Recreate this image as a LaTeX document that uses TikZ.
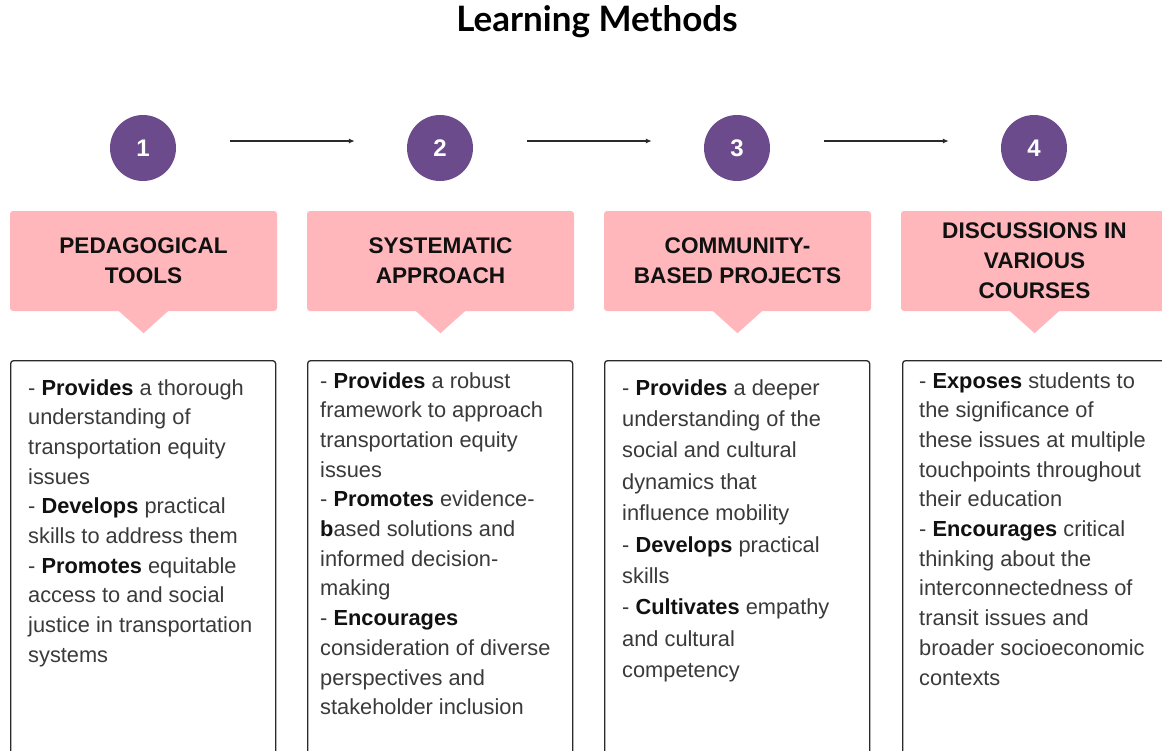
\documentclass[tikz,border=0pt]{standalone}
\usepackage{fontspec}
\setmainfont{Liberation Sans}
\newfontfamily\titlefont{Lato}
\usetikzlibrary{arrows.meta,calc}
\definecolor{purp}{HTML}{6B4B8C}
\definecolor{pinkbox}{HTML}{FFB7BB}
\definecolor{bodytext}{HTML}{3A3A3A}
\definecolor{boldtext}{HTML}{111111}
\definecolor{edge}{HTML}{2A2A2A}
\newcommand{\bb}[1]{{\bfseries\color{boldtext}#1}}
\begin{document}
\begin{tikzpicture}[x=1pt,y=-1pt,
  numcircle/.style={circle,fill=purp,minimum size=66pt,inner sep=0pt,text=white,font=\bfseries\fontsize{24}{28}\selectfont},
  headbox/.style={rectangle,fill=pinkbox,rounded corners=3pt,minimum width=267pt,minimum height=100pt,inner sep=0pt,align=center,text=boldtext,font=\bfseries\fontsize{22.6}{30}\selectfont},
  bodybox/.style={rectangle,draw=edge,line width=1.3pt,rounded corners=3pt,fill=white,minimum width=265pt,minimum height=420pt,inner sep=0pt,anchor=north west},
  bodytxt/.style={anchor=north west,inner sep=0pt,align=left,text=bodytext,font=\fontsize{21.8}{29.7}\selectfont},
  flow/.style={draw=edge,line width=1.3pt,-{Latex[length=6pt,width=5pt]}}
]
\clip (0,0) rectangle (1162,750);
\fill[white] (0,0) rectangle (1162,750);

\node[inner sep=0pt,font=\titlefont\bfseries\fontsize{35}{40}\selectfont,text=black] (title) at (597,22) {Learning Methods};

\node[numcircle] (c1) at (143,148) {1};
\node[numcircle] (c2) at (440,148) {2};
\node[numcircle] (c3) at (737,148) {3};
\node[numcircle] (c4) at (1034,148) {4};

\draw[flow] ($(c1.east)+(54,-7)$) -- ($(c2.west)+(-52,-7)$);
\draw[flow] ($(c2.east)+(54,-7)$) -- ($(c3.west)+(-52,-7)$);
\draw[flow] ($(c3.east)+(54,-7)$) -- ($(c4.west)+(-52,-7)$);

\node[headbox] (h1) at (143.5,261) {PEDAGOGICAL\\TOOLS};
\node[headbox] (h2) at (440.5,261) {SYSTEMATIC\\APPROACH};
\node[headbox] (h3) at (737.5,261) {COMMUNITY-\\BASED PROJECTS};
\node[headbox] (h4) at (1034.5,261) {DISCUSSIONS IN\\VARIOUS\\COURSES};
\foreach \h in {h1,h2,h3,h4}{
  \fill[pinkbox] ($(\h.south)+(-25,-0.5)$) -- ($(\h.south)+(25,-0.5)$) -- ($(\h.south)+(0,22)$) -- cycle;
}

\node[bodybox] (b1) at (10,360) {};
\node[bodybox] (b2) at (307,360) {};
\node[bodybox] (b3) at (604,360) {};
\node[bodybox] (b4) at (902,360) {};

\node[bodytxt] (t1) at ($(b1.north west)+(18,19)$) {%
- \bb{Provides} a thorough\\
understanding of\\
transportation equity\\
issues\\
- \bb{Develops} practical\\
skills to address them\\
- \bb{Promotes} equitable\\
access to and social\\
justice in transportation\\
systems};

\node[bodytxt] (t2) at ($(b2.north west)+(13,12)$) {%
- \bb{Provides} a robust\\
framework to approach\\
transportation equity\\
issues\\
- \bb{Promotes} evidence-\\
\bb{b}ased solutions and\\
informed decision-\\
making\\
- \bb{Encourages}\\
consideration of diverse\\
perspectives and\\
stakeholder inclusion};

\node[bodytxt,font=\fontsize{21.8}{31.4}\selectfont] (t3) at ($(b3.north west)+(18,19)$) {%
- \bb{Provides} a deeper\\
understanding of the\\
social and cultural\\
dynamics that\\
influence mobility\\
- \bb{Develops} practical\\
skills\\
- \bb{Cultivates} empathy\\
and cultural\\
competency};

\node[bodytxt] (t4) at ($(b4.north west)+(17,12)$) {%
- \bb{Exposes} students to\\
the significance of\\
these issues at multiple\\
touchpoints throughout\\
their education\\
- \bb{Encourages} critical\\
thinking about the\\
interconnectedness of\\
transit issues and\\
broader socioeconomic\\
contexts};
\end{tikzpicture}
\end{document}
